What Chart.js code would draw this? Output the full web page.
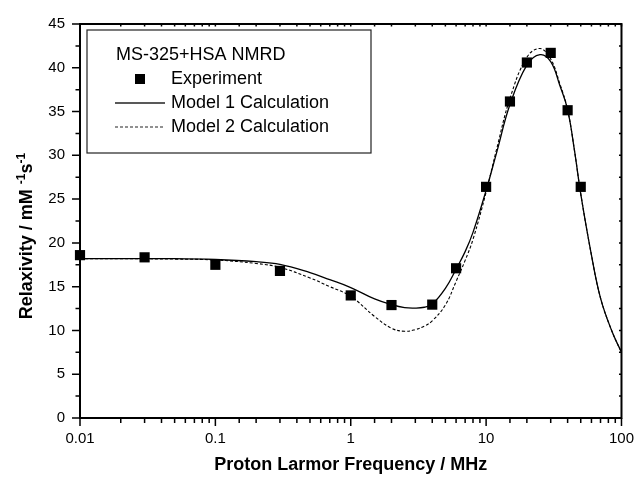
<html>

<head>
  <script src="https://cdn.jsdelivr.net/npm/chart.js"></script>
</head>

<body style="margin: 0; background: #fff;">
  <div style="width: 634px; height: 478px;">
    <canvas id="myChart" width="634" height="478"></canvas>
  </div>
  <script>
    // measured relaxivity (squares)
    const freqExp = [0.01, 0.03, 0.1, 0.3, 1, 2, 4, 6, 10, 15, 20, 30, 40, 50];
    const relaxExp = [18.6, 18.35, 17.5, 16.8, 14.0, 12.9, 12.95, 17.1, 26.4, 36.15, 40.6, 41.7, 35.15, 26.4];

    // model curves
    const freqModel = [0.01, 0.02, 0.05, 0.1, 0.2, 0.3, 0.5, 0.7, 1, 1.5, 2, 2.5, 3, 3.5, 4, 5, 6, 7, 8, 10, 12, 15, 20, 25, 30, 35, 40, 45, 50, 60, 70, 85, 100];
    const model1 = [18.2, 18.2, 18.2, 18.1, 17.85, 17.55, 16.6, 15.8, 14.9, 13.6, 12.95, 12.6, 12.55, 12.65, 13.0, 14.8, 17.0, 19.0, 21.2, 26.0, 30.4, 35.8, 40.3, 41.5, 40.7, 38.0, 35.2, 30.5, 25.6, 18.6, 13.7, 9.9, 7.5];
    const model2 = [18.2, 18.2, 18.15, 18.05, 17.65, 17.2, 16.0, 15.0, 13.9, 11.6, 10.25, 9.9, 10.1, 10.5, 11.1, 12.9, 15.6, 18.0, 20.4, 25.8, 30.8, 36.5, 41.2, 42.2, 41.0, 38.2, 35.2, 30.5, 25.6, 18.6, 13.7, 9.9, 7.5];

    const xTickLabels = ['0.01', '0.1', '1', '10', '100'];
    const legendTitle = 'MS-325+HSA NMRD';

    const FONT = '"Liberation Sans", Arial, Helvetica, sans-serif';
    Chart.defaults.font.family = FONT;
    Chart.defaults.color = '#000';

    const toPoints = (xs, ys) => xs.map((v, i) => ({ x: v, y: ys[i] }));
    const isDecade = v => Math.abs(Math.log10(v) - Math.round(Math.log10(v))) < 1e-6;

    // box, ticks on all four sides
    const frame = {
      id: 'frame',
      afterDatasetsDraw(chart) {
        const { ctx, chartArea: a, scales: { x, y } } = chart;
        ctx.save();
        ctx.strokeStyle = '#000';
        ctx.lineWidth = 2;
        ctx.strokeRect(a.left, a.top, a.right - a.left, a.bottom - a.top);
        ctx.lineWidth = 1.5;
        ctx.beginPath();
        x.ticks.forEach(t => {
          const px = x.getPixelForValue(t.value);
          ctx.moveTo(px, a.bottom);
          ctx.lineTo(px, a.bottom + (isDecade(t.value) ? 8 : 5));
          ctx.moveTo(px, a.top);
          ctx.lineTo(px, a.top + 2.5);
        });
        y.ticks.forEach(t => {
          const py = y.getPixelForValue(t.value);
          ctx.moveTo(a.left, py);
          ctx.lineTo(a.left - (t.value % 5 === 0 ? 8 : 4.5), py);
          ctx.moveTo(a.right, py);
          ctx.lineTo(a.right - 2.5, py);
        });
        ctx.stroke();
        ctx.restore();
      }
    };

    // boxed legend in the upper left
    const boxLegend = {
      id: 'boxLegend',
      afterDraw(chart) {
        const ctx = chart.ctx;
        const ds = chart.data.datasets;
        ctx.save();
        ctx.strokeStyle = '#222';
        ctx.lineWidth = 1.2;
        ctx.strokeRect(87, 30, 284, 123);
        ctx.fillStyle = '#000';
        ctx.font = '18px ' + FONT;
        ctx.textBaseline = 'middle';
        ctx.fillText(legendTitle, 116, 55);
        ds.forEach((d, i) => {
          const ry = 79 + i * 24;
          if (d.showLine === false) {
            ctx.fillRect(135, ry - 5, 10, 10);
          } else {
            ctx.beginPath();
            ctx.lineWidth = d.borderWidth;
            ctx.setLineDash(d.borderDash || []);
            ctx.moveTo(115, ry);
            ctx.lineTo(165, ry);
            ctx.stroke();
            ctx.setLineDash([]);
          }
          ctx.fillText(d.label, 171, ry);
        });
        ctx.restore();
      }
    };

    // y title with superscripts
    const yTitle = {
      id: 'yTitle',
      afterDraw(chart) {
        const ctx = chart.ctx;
        const parts = [['Relaxivity / mM ', false], ['-1', true], ['s', false], ['-1', true]];
        const big = 'bold 18px ' + FONT;
        const small = 'bold 12px ' + FONT;
        let total = 0;
        parts.forEach(([s, sup]) => { ctx.font = sup ? small : big; total += ctx.measureText(s).width; });
        ctx.save();
        ctx.translate(32, 236);
        ctx.rotate(-Math.PI / 2);
        ctx.fillStyle = '#000';
        ctx.textBaseline = 'alphabetic';
        let xx = -total / 2;
        parts.forEach(([s, sup]) => {
          ctx.font = sup ? small : big;
          ctx.fillText(s, xx, sup ? -7 : 0);
          xx += ctx.measureText(s).width;
        });
        ctx.restore();
      }
    };

    const ctx = document.getElementById('myChart').getContext('2d');
    const grafica = new Chart(ctx, {
      type: 'scatter',
      data: {
        datasets: [{
          label: 'Experiment',
          data: toPoints(freqExp, relaxExp),
          showLine: false,
          pointStyle: 'rect',
          pointRadius: 7.2,
          pointBorderWidth: 0,
          backgroundColor: '#000',
          borderColor: '#000',
          clip: false
        }, {
          label: 'Model 1 Calculation',
          data: toPoints(freqModel, model1),
          showLine: true,
          pointRadius: 0,
          borderColor: '#000',
          borderWidth: 1.3,
          tension: 0.4
        }, {
          label: 'Model 2 Calculation',
          data: toPoints(freqModel, model2),
          showLine: true,
          pointRadius: 0,
          borderColor: '#000',
          borderWidth: 1.1,
          borderDash: [3, 2],
          tension: 0.4
        }]
      },
      options: {
        responsive: false,
        animation: false,
        devicePixelRatio: 1,
        layout: { padding: { top: 20, right: 0, left: 0, bottom: 0 } },
        plugins: { legend: { display: false }, tooltip: { enabled: false } },
        scales: {
          x: {
            type: 'logarithmic',
            min: 0.01,
            max: 100,
            grid: { display: false, drawTicks: false },
            border: { display: false },
            ticks: {
              autoSkip: false,
              maxRotation: 0,
              padding: 0,
              font: { size: 15, lineHeight: 2.8 },
              color: '#000',
              callback: v => isDecade(v) ? xTickLabels[Math.round(Math.log10(v)) + 2] : ''
            },
            title: {
              display: true,
              text: 'Proton Larmor Frequency / MHz',
              font: { size: 18, weight: 'bold' },
              color: '#000',
              padding: { top: 0, bottom: 2 }
            },
            afterFit: s => { s.height = 60; }
          },
          y: {
            min: 0,
            max: 45,
            grid: { display: false, drawTicks: false },
            border: { display: false },
            ticks: {
              stepSize: 2.5,
              autoSkip: false,
              padding: 15,
              font: { size: 15 },
              color: '#000',
              callback: v => v % 5 === 0 ? String(v) : ''
            },
            afterFit: s => { s.width = 80; }
          }
        }
      },
      plugins: [frame, boxLegend, yTitle]
    });
  </script>
</body>

</html>
